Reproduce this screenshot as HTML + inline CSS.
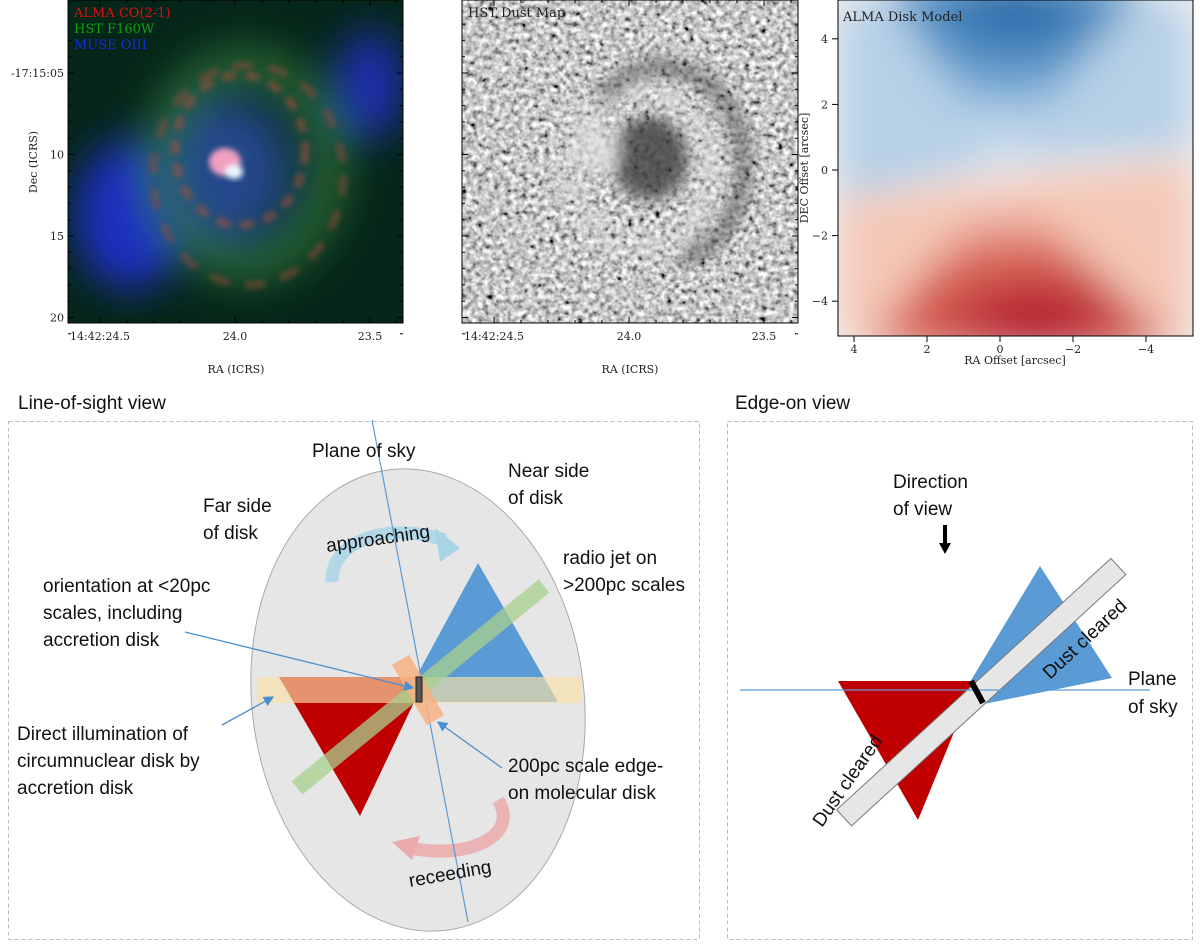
<!DOCTYPE html>
<html><head><meta charset="utf-8">
<style>
body{margin:0;background:#fff;width:1200px;height:947px;overflow:hidden;font-family:"Liberation Sans",sans-serif}
svg{display:block}
.ser{font-family:"DejaVu Serif","Liberation Serif",serif;font-size:11px;fill:#222}
.lab{font-family:"Liberation Sans",sans-serif;font-size:19px;fill:#111}
</style></head><body>
<svg id="fig" width="1200" height="947" viewBox="0 0 1200 947">
<defs>
<filter id="noise" x="0" y="0" width="100%" height="100%">
<feTurbulence type="fractalNoise" baseFrequency="0.18" numOctaves="2" seed="4"/>
<feColorMatrix type="matrix" values="0.33 0.33 0.33 0 0  0.33 0.33 0.33 0 0  0.33 0.33 0.33 0 0  0 0 0 0 1"/>
<feComponentTransfer><feFuncR type="linear" slope="2.6" intercept="-0.72"/><feFuncG type="linear" slope="2.6" intercept="-0.72"/><feFuncB type="linear" slope="2.6" intercept="-0.72"/></feComponentTransfer>
</filter>
<filter id="blur8"><feGaussianBlur stdDeviation="8"/></filter>
<filter id="blur20"><feGaussianBlur stdDeviation="20"/></filter>
<filter id="blur3"><feGaussianBlur stdDeviation="3"/></filter>
<radialGradient id="bluetop" cx="0.5" cy="0.1" r="0.75"><stop offset="0" stop-color="#1c5b9e"/><stop offset="0.55" stop-color="#5d9acb"/><stop offset="1" stop-color="#cfe0ee"/></radialGradient>
<radialGradient id="redbot" cx="0.55" cy="0.85" r="0.75"><stop offset="0" stop-color="#ab0f24"/><stop offset="0.55" stop-color="#db6a5a"/><stop offset="1" stop-color="#f7d8cb"/></radialGradient>
<marker id="ah" markerWidth="8" markerHeight="8" refX="7" refY="4" orient="auto"><path d="M0,0 L8,4 L0,8 z" fill="#4a8fd0"/></marker>
<clipPath id="c1"><rect x="68" y="0" width="335" height="323"/></clipPath>
<clipPath id="c2"><rect x="462" y="0" width="336" height="323"/></clipPath>
<clipPath id="c3"><rect x="838" y="0" width="355" height="336"/></clipPath>
</defs>

<!-- Panel 1 -->
<g>
<g clip-path="url(#c1)">
<rect x="68" y="0" width="335" height="323" fill="#06261a"/>
<g filter="url(#blur20)">
<ellipse cx="130" cy="215" rx="55" ry="75" fill="#1e2fc0"/>
<ellipse cx="370" cy="85" rx="35" ry="55" fill="#1a2eaa"/>
<ellipse cx="230" cy="170" rx="60" ry="70" fill="#2a4fa8" opacity="0.8"/>
<ellipse cx="245" cy="165" rx="85" ry="100" fill="none" stroke="#2f7a3a" stroke-width="35" opacity="0.8"/>
</g>
<g filter="url(#blur3)" opacity="0.55">
<ellipse cx="240" cy="150" rx="65" ry="75" fill="none" stroke="#b0503a" stroke-width="8" stroke-dasharray="14 10"/>
<ellipse cx="248" cy="175" rx="95" ry="110" fill="none" stroke="#9a4a3a" stroke-width="7" stroke-dasharray="20 16"/>
</g>
<g filter="url(#blur3)">
<ellipse cx="225" cy="162" rx="16" ry="14" fill="#f0a0c0"/>
<ellipse cx="234" cy="172" rx="9" ry="7" fill="#e8f8ff"/>
</g>
</g>
<rect x="68" y="0" width="335" height="323" fill="none" stroke="#000" stroke-width="1"/>
<text x="74" y="17" font-family="DejaVu Serif,serif" font-size="13" fill="#e01010">ALMA CO(2-1)</text>
<text x="74" y="33" font-family="DejaVu Serif,serif" font-size="13" fill="#10a010">HST F160W</text>
<text x="74" y="49" font-family="DejaVu Serif,serif" font-size="13" fill="#1030e0">MUSE OIII</text>
<g id="ax1"></g>
<text x="236" y="373" class="ser" font-size="12" text-anchor="middle">RA (ICRS)</text>
<text transform="translate(37,162) rotate(-90)" class="ser" font-size="12" text-anchor="middle">Dec (ICRS)</text>
</g>

<!-- Panel 2 -->
<g>
<g clip-path="url(#c2)">
<rect x="462" y="0" width="336" height="323" fill="#999" filter="url(#noise)"/>
<g filter="url(#blur8)" opacity="0.8">
<ellipse cx="640" cy="170" rx="70" ry="78" fill="none" stroke="#ddd" stroke-width="18" stroke-dasharray="20 14"/>
<ellipse cx="650" cy="158" rx="38" ry="42" fill="#3a3a3a"/>
<ellipse cx="600" cy="150" rx="18" ry="26" fill="#e0e0e0"/>
<path d="M600,100 C640,50 700,60 730,110 C760,170 740,240 680,260" fill="none" stroke="#555" stroke-width="14"/>
</g>
</g>
<rect x="462" y="0" width="336" height="323" fill="none" stroke="#000"/>
<text x="468" y="17" font-family="DejaVu Serif,serif" font-size="13" fill="#222">HST Dust Map</text>
<g id="ax2"></g>
<text x="630" y="373" class="ser" font-size="12" text-anchor="middle">RA (ICRS)</text>
</g>

<!-- Panel 3 -->
<g>
<g clip-path="url(#c3)">
<rect x="838" y="0" width="355" height="336" fill="#f3f1f0"/>
<g filter="url(#blur20)">
<polygon points="838,0 1193,0 1193,150 1000,162 838,200" fill="#b6d0e6"/>
<polygon points="880,-20 1150,-20 1000,160" fill="url(#bluetop)"/>
<polygon points="838,200 1000,180 1193,160 1193,336 838,336" fill="#f4c8b6"/>
<polygon points="1000,180 860,350 1180,350" fill="url(#redbot)"/>
</g>
</g>
<rect x="838" y="0" width="355" height="336" fill="none" stroke="#000"/>
<text x="843" y="21" font-family="DejaVu Serif,serif" font-size="13" fill="#222">ALMA Disk Model</text>
<g id="ax3"></g>
<text x="1015" y="364" class="ser" text-anchor="middle">RA Offset [arcsec]</text>
<text transform="translate(808,168) rotate(-90)" class="ser" text-anchor="middle">DEC Offset [arcsec]</text>
</g>

<!-- Bottom left diagram -->
<g>
<text x="18" y="409" class="lab">Line-of-sight view</text>
<rect x="8.5" y="421.5" width="691" height="518" fill="none" stroke="#bbb" stroke-dasharray="4 3"/>
<ellipse cx="418" cy="700" rx="166" ry="232" transform="rotate(-7 418 700)" fill="#e7e6e6" stroke="#aaa"/>
<path d="M332,582 C330,545 380,520 445,540" fill="none" stroke="#a8d4e6" stroke-width="13" stroke-opacity="0.85"/>
<polygon points="435,528 460,548 440,562" fill="#a8d4e6"/>
<path d="M498,800 C520,835 470,860 410,848" fill="none" stroke="#ebaaaa" stroke-width="13" stroke-opacity="0.85"/>
<polygon points="420,836 392,842 412,860" fill="#ebaaaa"/>
<line x1="372" y1="420" x2="468" y2="922" stroke="#5b9bd5" stroke-width="1.2"/>
<polygon points="478,563 558,702 416,702 416,677" fill="#5b9bd5"/>
<polygon points="279,677 426,677 360,816" fill="#c00000"/>
<rect x="257" y="677" width="324" height="26" fill="#f9e2a8" opacity="0.65"/>
<line x1="297" y1="788" x2="544" y2="586" stroke="#a9d18e" stroke-width="17" opacity="0.75"/>
<rect x="408" y="655" width="20" height="70" transform="rotate(-30 418 690)" fill="#f4b183" opacity="0.85"/>
<rect x="416" y="677" width="6" height="25" fill="#555" stroke="#222"/>
<line x1="185" y1="632" x2="413" y2="688" stroke="#4a8fd0" stroke-width="1.3" marker-end="url(#ah)"/>
<line x1="222" y1="725" x2="273" y2="697" stroke="#4a8fd0" stroke-width="1.3" marker-end="url(#ah)"/>
<line x1="502" y1="768" x2="438" y2="722" stroke="#4a8fd0" stroke-width="1.3" marker-end="url(#ah)"/>
<g class="lab">
<text x="312" y="457">Plane of sky</text>
<text x="203" y="512">Far side</text>
<text x="203" y="539">of disk</text>
<text x="508" y="477">Near side</text>
<text x="508" y="504">of disk</text>
<text x="327" y="552" transform="rotate(-8 327 552)">approaching</text>
<text x="563" y="564">radio jet on</text>
<text x="563" y="591">&gt;200pc scales</text>
<text x="43" y="592">orientation at &lt;20pc</text>
<text x="43" y="619">scales, including</text>
<text x="43" y="646">accretion disk</text>
<text x="17" y="740">Direct illumination of</text>
<text x="17" y="767">circumnuclear disk by</text>
<text x="17" y="794">accretion disk</text>
<text x="508" y="772">200pc scale edge-</text>
<text x="508" y="799">on molecular disk</text>
<text x="410" y="887" transform="rotate(-10 410 887)">receeding</text>
</g>
</g>

<!-- Bottom right diagram -->
<g>
<text x="735" y="409" class="lab">Edge-on view</text>
<rect x="727.5" y="421.5" width="465" height="518" fill="none" stroke="#bbb" stroke-dasharray="4 3"/>
<polygon points="1040,566 1112,678 984,704 970,682" fill="#5b9bd5"/>
<polygon points="838,681 975,681 918,820" fill="#c00000"/>
<rect x="794" y="684" width="372" height="22" transform="rotate(-42.5 977 692)" fill="#e7e6e6" stroke="#777"/>
<line x1="740" y1="690" x2="1150" y2="690" stroke="#5b9bd5" stroke-width="1.2"/>
<line x1="971" y1="681" x2="983" y2="703" stroke="#000" stroke-width="6"/>
<line x1="945" y1="525" x2="945" y2="545" stroke="#000" stroke-width="4"/>
<polygon points="939,543 951,543 945,554" fill="#000"/>
<g class="lab">
<text x="893" y="488">Direction</text>
<text x="893" y="515">of view</text>
<text x="1128" y="685">Plane</text>
<text x="1128" y="713">of sky</text>
<text x="1050" y="680" transform="rotate(-43 1050 680)">Dust cleared</text>
<text x="822" y="828" transform="rotate(-55 822 828)">Dust cleared</text>
</g>
</g>
</svg>
<script>
const ra1Labels=["14:42:24.5","24.0","23.5"];
const ra1Pos=[0,1,2];
const dec1Labels=["-17:15:05","10","15","20"];
const dec1Vals=[5,10,15,20];
const offLabels=["4","2","0","−2","−4"];
const offVals=[4,2,0,-2,-4];
const NS="http://www.w3.org/2000/svg";
function mk(p,tag,a){const e=document.createElementNS(NS,tag);for(const k in a)e.setAttribute(k,a[k]);p.appendChild(e);return e;}
function raAxis(g,x0,y0,y1){
  const sx=i=>x0+32+i*135;
  ra1Pos.forEach((v,i)=>{
    const x=sx(v);
    const t=mk(g,'line',{x1:x,y1:y1,x2:x,y2:y1-6,stroke:'#000'});
    
    
    mk(g,'line',{x1:x,y1:y0,x2:x,y2:y0+6,stroke:'#000'});
    const l=mk(g,'text',{x:x,y:y1+17,'text-anchor':'middle',class:'ser'});
    l.textContent=ra1Labels[i];
    
    
  });
  for(let k=0;k<12;k++){const x=x0+32+k*27;if(x<x0+335){mk(g,'line',{x1:x,y1:y1,x2:x,y2:y1-3,stroke:'#000'});mk(g,'line',{x1:x,y1:y0,x2:x,y2:y0+3,stroke:'#000'});}}
}
function decAxis(g,x0,x1,lab){
  const sy=v=>73+(v-5)*16.3;
  dec1Vals.forEach((v,i)=>{
    const y=sy(v);
    mk(g,'line',{x1:x0,y1:y,x2:x0+6,y2:y,stroke:'#000'});
    mk(g,'line',{x1:x1,y1:y,x2:x1-6,y2:y,stroke:'#000'});
    if(lab){const l=mk(g,'text',{x:x0-4,y:y+4,'text-anchor':'end',class:'ser'});
    l.textContent=dec1Labels[i];
    
    }
  });
  for(let v=2;v<=21;v++){const y=sy(v);mk(g,'line',{x1:x0,y1:y,x2:x0+3,y2:y,stroke:'#000'});mk(g,'line',{x1:x1,y1:y,x2:x1-3,y2:y,stroke:'#000'});}
}
const g1=document.getElementById('ax1');raAxis(g1,68,0,323);decAxis(g1,68,403,true);
const g2=document.getElementById('ax2');raAxis(g2,462,0,323);decAxis(g2,462,798,false);
const g3=document.getElementById('ax3');
const sx3=v=>1000-v*36.5, sy3=v=>170-v*32.8;
offVals.forEach((v,i)=>{
  const x=sx3(v);mk(g3,'line',{x1:x,y1:336,x2:x,y2:342,stroke:'#000'});
  const l=mk(g3,'text',{x:x,y:353,'text-anchor':'middle',class:'ser'});l.textContent=offLabels[i];
  
  
  const y=sy3(v);mk(g3,'line',{x1:838,y1:y,x2:832,y2:y,stroke:'#000'});
  const m=mk(g3,'text',{x:828,y:y+4,'text-anchor':'end',class:'ser'});m.textContent=offLabels[i];
  
  
});
</script>
</body></html>
